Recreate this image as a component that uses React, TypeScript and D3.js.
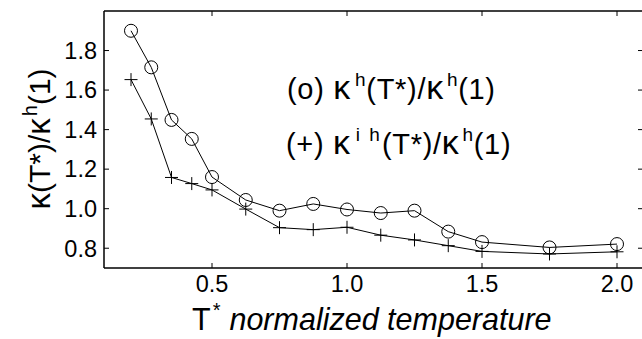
import React from "react";
import * as d3 from "d3";

const temps = [0.2, 0.275, 0.35, 0.425, 0.5, 0.625, 0.75, 0.875, 1.0, 1.125, 1.25, 1.375, 1.5, 1.75, 2.0];
const kappaH = [1.9, 1.715, 1.449, 1.353, 1.16, 1.044, 0.99, 1.024, 0.996, 0.978, 0.99, 0.884, 0.831, 0.804, 0.821];
const kappaIH = [1.653, 1.454, 1.158, 1.127, 1.095, 0.998, 0.904, 0.894, 0.906, 0.866, 0.842, 0.813, 0.784, 0.771, 0.782];
const xTicks = [0.5, 1.0, 1.5, 2.0];
const yTicks = [0.8, 1.0, 1.2, 1.4, 1.6, 1.8];

const W = 642;
const H = 339;
const left = 104, right = 644, top = 11, bottom = 268;
const FONT = "'Liberation Sans', Arial, sans-serif";

export default function App() {
  const x = d3.scaleLinear().domain([0.1, 2.1]).range([left, right]);
  const y = d3.scaleLinear().domain([0.7, 2.0]).range([bottom, top]);
  const line = d3.line<number>().x((_, i) => x(temps[i])).y((d) => y(d));
  const tl = 5;
  const K = 34;
  return (
    <svg width={W} height={H} style={{ position: "absolute", left: 0, top: 0, background: "#fff" }}>
      <rect x={0} y={0} width={W} height={H} fill="#fff" />
      <g stroke="#000" strokeWidth={1.5} fill="none">
        <line x1={left} y1={top} x2={right} y2={top} />
        <line x1={left} y1={bottom} x2={right} y2={bottom} />
        <line x1={left} y1={top} x2={left} y2={bottom} />
        <line x1={right} y1={top} x2={right} y2={bottom} />
      </g>
      <g stroke="#000" strokeWidth={1}>
        {xTicks.map((t) => (
          <g key={"xt" + t}>
            <line x1={x(t)} x2={x(t)} y1={bottom} y2={bottom - tl} />
            <line x1={x(t)} x2={x(t)} y1={top} y2={top + tl} />
          </g>
        ))}
        {yTicks.map((t) => (
          <g key={"yt" + t}>
            <line x1={left} x2={left + tl} y1={y(t)} y2={y(t)} />
            <line x1={right} x2={right - 6} y1={y(t)} y2={y(t)} />
          </g>
        ))}
      </g>
      <g fontFamily={FONT} fontSize={23.5} fill="#000">
        {xTicks.map((t) => (
          <text key={"xl" + t} x={x(t)} y={292} textAnchor="middle">
            {t.toFixed(1)}
          </text>
        ))}
        {yTicks.map((t) => (
          <text key={"yl" + t} x={97} y={y(t) + 8.3} textAnchor="end">
            {t.toFixed(1)}
          </text>
        ))}
      </g>
      <path d={line(kappaH) || ""} fill="none" stroke="#000" strokeWidth={1} />
      <path d={line(kappaIH) || ""} fill="none" stroke="#000" strokeWidth={1} />
      <g fill="none" stroke="#000" strokeWidth={1}>
        {kappaH.map((v, i) => (
          <circle key={"c" + i} cx={x(temps[i])} cy={y(v)} r={6.5} />
        ))}
        {kappaIH.map((v, i) => (
          <g key={"p" + i}>
            <line x1={x(temps[i]) - 6.5} x2={x(temps[i]) + 6.5} y1={y(v)} y2={y(v)} />
            <line x1={x(temps[i])} x2={x(temps[i])} y1={y(v) - 6.5} y2={y(v) + 6.5} />
          </g>
        ))}
      </g>
      <g fontFamily={FONT} fontSize={29} fill="#000" letterSpacing={0.7}>
        <text x={287} y={99}>
          (o) <tspan fontSize={K}>κ</tspan>
          <tspan dx={4} dy={-13} fontSize={19}>h</tspan>
          <tspan dy={13}>(T*)/</tspan>
          <tspan fontSize={K}>κ</tspan>
          <tspan dx={3} dy={-13} fontSize={19}>h</tspan>
          <tspan dy={13}>(1)</tspan>
        </text>
        <text x={286} y={154}>
          (+) <tspan fontSize={K}>κ</tspan>
          <tspan dx={5} dy={-13} fontSize={19} letterSpacing={2}>i h</tspan>
          <tspan dy={13}>(T*)/</tspan>
          <tspan fontSize={K}>κ</tspan>
          <tspan dx={3} dy={-13} fontSize={19}>h</tspan>
          <tspan dy={13}>(1)</tspan>
        </text>
      </g>
      <g fontFamily={FONT} fill="#000">
        <text x={192} y={330} fontSize={30.5}>
          T<tspan dx={2} dy={-13} fontSize={20}>*</tspan>
          <tspan dx={9} dy={13} fontStyle="italic">normalized temperature</tspan>
        </text>
        <text transform="translate(50,139) rotate(-90)" textAnchor="middle" fontSize={30}>
          <tspan fontSize={33}>κ</tspan>(T*)/<tspan fontSize={33}>κ</tspan>
          <tspan dx={2} dy={-13} fontSize={20}>h</tspan>
          <tspan dy={13}>(1)</tspan>
        </text>
      </g>
    </svg>
  );
}
